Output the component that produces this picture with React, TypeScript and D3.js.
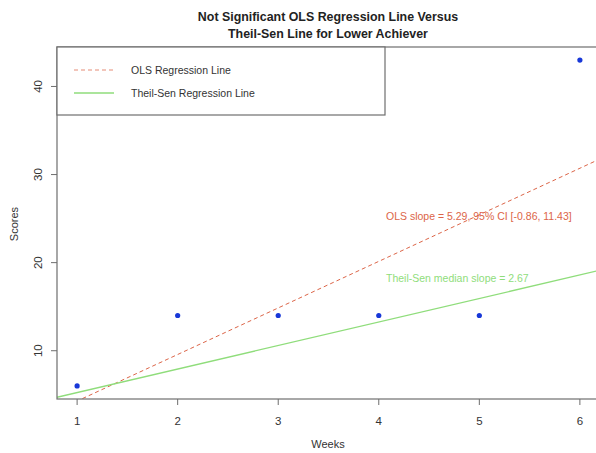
import React from "react";
import * as d3 from "d3";

const weeks = [1, 2, 3, 4, 5, 6];
const scores = [6, 14, 14, 14, 14, 43];
const xTicks = [1, 2, 3, 4, 5, 6];
const yTicks = [10, 20, 30, 40];
const olsLine = { intercept: -1.0, slope: 5.286 };
const theilSenLine = { intercept: 2.58, slope: 2.67 };
const titleLines = ["Not Significant OLS Regression Line Versus", "Theil-Sen Line for Lower Achiever"];
const legendLabels = ["OLS Regression Line", "Theil-Sen Regression Line"];
const olsNote = "OLS slope = 5.29, 95% CI [-0.86, 11.43]";
const tsNote = "Theil-Sen median slope = 2.67";

const W = 596;
const H = 453;
const L = 57, R = 600, T = 47, B = 399;
const FONT = "'Liberation Sans', Arial, Helvetica, sans-serif";
const AXIS = "#6e6e6e";
const RED = "#dc6548";
const GREEN = "#8fdd7b";
const BLUE = "#1838d8";

export default function App() {
  const xExt = (6 - 1) * 0.04;
  const yMin = d3.min(scores)!, yMax = d3.max(scores)!;
  const yExt = (yMax - yMin) * 0.04;
  const x = d3.scaleLinear().domain([1 - xExt, 6 + xExt]).range([L, R]);
  const y = d3.scaleLinear().domain([yMin - yExt, yMax + yExt]).range([B, T]);
  const xd = x.domain();
  const mk = (ln: { intercept: number; slope: number }) =>
    d3.line<number>().x((v) => x(v)).y((v) => y(ln.intercept + ln.slope * v))([xd[0], xd[1]]) || "";

  return (
    <svg width={W} height={H} style={{ position: "absolute", left: 0, top: 0, background: "#fff" }} fontFamily={FONT}>
      <defs>
        <clipPath id="plotclip">
          <rect x={L} y={T} width={R - L} height={B - T} />
        </clipPath>
      </defs>
      <rect x={0} y={0} width={W} height={H} fill="#fff" />
      {titleLines.map((t, i) => (
        <text key={i} x={328} y={21 + i * 17} textAnchor="middle" fontWeight="bold" fontSize={12.4} fill="#222">
          {t}
        </text>
      ))}
      <g clipPath="url(#plotclip)">
        <path d={mk(olsLine)} stroke={RED} strokeWidth={1} strokeDasharray="4,3" fill="none" />
        <path d={mk(theilSenLine)} stroke={GREEN} strokeWidth={1.3} fill="none" />
      </g>
      {weeks.map((w, i) => (
        <circle key={i} cx={x(w)} cy={y(scores[i])} r={2.6} fill={BLUE} />
      ))}
      <rect x={L} y={T} width={R - L} height={B - T} fill="none" stroke={AXIS} strokeWidth={1.2} />
      {xTicks.map((t) => (
        <g key={t}>
          <line x1={x(t)} x2={x(t)} y1={B} y2={B + 6} stroke={AXIS} />
          <text x={x(t)} y={B + 26} textAnchor="middle" fontSize={11.5} fill="#333">{t}</text>
        </g>
      ))}
      {yTicks.map((t) => (
        <g key={t}>
          <line x1={L} x2={L - 6} y1={y(t)} y2={y(t)} stroke={AXIS} />
          <text transform={`translate(${L - 15},${y(t)}) rotate(-90)`} textAnchor="middle" fontSize={11.5} fill="#333">{t}</text>
        </g>
      ))}
      <text x={328} y={448} textAnchor="middle" fontSize={11} fill="#333">Weeks</text>
      <text transform={`translate(18,224) rotate(-90)`} textAnchor="middle" fontSize={11} fill="#333">Scores</text>
      <rect x={L} y={T} width={385 - L} height={115 - T} fill="#fff" stroke={AXIS} strokeWidth={1.2} />
      <line x1={74} x2={114} y1={70} y2={70} stroke={RED} strokeOpacity={0.75} strokeDasharray="4,3" />
      <text x={131} y={74} fontSize={10.5} fill="#333">{legendLabels[0]}</text>
      <line x1={74} x2={114} y1={93} y2={93} stroke={GREEN} strokeWidth={1.3} />
      <text x={131} y={97} fontSize={10.5} fill="#333">{legendLabels[1]}</text>
      <text x={386} y={220} fontSize={10.5} fill={RED}>{olsNote}</text>
      <text x={386} y={282} fontSize={10.5} fill={GREEN}>{tsNote}</text>
    </svg>
  );
}
